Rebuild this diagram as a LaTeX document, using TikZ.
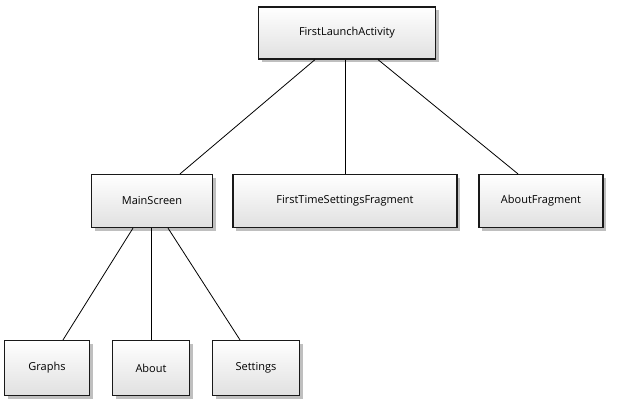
\documentclass[tikz,border=0pt]{standalone}
\usepackage{fontspec}
\setmainfont{Open Sans}
\usetikzlibrary{shadows}
\begin{document}
\begin{tikzpicture}[x=1pt,y=-1pt,
  cls/.style={draw=black!90,line width=1.2pt,top color=white,bottom color=black!12,
    drop shadow={shadow xshift=3pt,shadow yshift=-3pt,fill=black!50,opacity=0.5},
    inner sep=0pt,font=\fontsize{11}{13}\selectfont},
  link/.style={draw=black,line width=0.8pt}]
\useasboundingbox (0,0) rectangle (628,400);
\node[cls,minimum width=177pt,minimum height=52pt] (fla) at (347,33) {FirstLaunchActivity};
\node[cls,minimum width=121pt,minimum height=53pt] (ms) at (152,201) {MainScreen};
\node[cls,minimum width=224pt,minimum height=53pt] (fts) at (345,201) {FirstTimeSettingsFragment};
\node[cls,minimum width=124pt,minimum height=53pt] (af) at (541,201) {AboutFragment};
\node[cls,minimum width=85pt,minimum height=55pt] (gr) at (47,368) {Graphs};
\node[cls,minimum width=77pt,minimum height=55pt] (ab) at (151,368) {About};
\node[cls,minimum width=87pt,minimum height=55pt] (st) at (256,368) {Settings};
\draw[link] ([xshift=-32pt]fla.south) -- ([xshift=28pt]ms.north);
\draw[link] ([xshift=-2pt]fla.south) -- (fts.north);
\draw[link] ([xshift=31pt]fla.south) -- ([xshift=-23pt]af.north);
\draw[link] ([xshift=-19pt]ms.south) -- ([xshift=16pt]gr.north);
\draw[link] ([xshift=-1pt]ms.south) -- (ab.north);
\draw[link] ([xshift=16pt]ms.south) -- ([xshift=-16pt]st.north);
\end{tikzpicture}
\end{document}
